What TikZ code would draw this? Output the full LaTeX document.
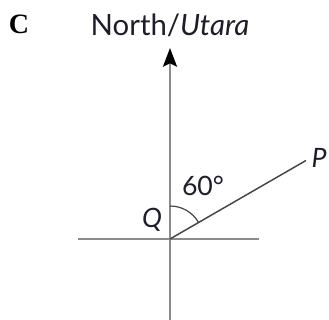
\documentclass[tikz,border=0pt]{standalone}
\usepackage{fontspec}
\setmainfont{Lato}
\newfontfamily\serifbold{Liberation Serif}
\usetikzlibrary{arrows.meta,calc}
\definecolor{axisgray}{HTML}{8C8C8C}
\definecolor{raygray}{HTML}{454545}
\definecolor{inkcol}{HTML}{1E1E2A}
\begin{document}
\begin{tikzpicture}[x=0.75pt,y=0.75pt,
  axis/.style={draw=axisgray,line width=1.5pt},
  ray/.style={draw=raygray,line width=1.1pt},
  lbl/.style={text=inkcol,inner sep=0pt,font=\fontsize{20}{22}\selectfont}]
\useasboundingbox (0,0) rectangle (329,320);
\coordinate (Q) at (170,81);
\coordinate (Ntip) at (170,272);
\coordinate (S) at (170,0);
\coordinate (W) at (78,81);
\coordinate (E) at (259,81);
\coordinate (P) at ($(Q)+(30:157)$);
\draw[axis] (S) -- (Q);
\draw[axis,-{Stealth[length=14pt,width=10.5pt,inset=2.5pt,color=black]}] (Q) -- (Ntip);
\draw[axis] (W) -- (E);
\draw[ray] (Q) -- (P);
\draw[ray,line width=0.9pt] ($(Q)+(90:33)$) arc[start angle=90,end angle=30,radius=33];
\node[lbl,font=\fontsize{22}{24}\selectfont] (north) at (170,295) {North/\textit{Utara}};
\node[lbl,font=\serifbold\bfseries\fontsize{21}{22}\selectfont,text=black] (C) at (19,296) {C};
\node[lbl] (ang) at (203,134) {60°};
\node[lbl] (qlab) at (152,100) {\textit{Q}};
\node[lbl] (plab) at (319,162) {\textit{P}};
\end{tikzpicture}
\end{document}
